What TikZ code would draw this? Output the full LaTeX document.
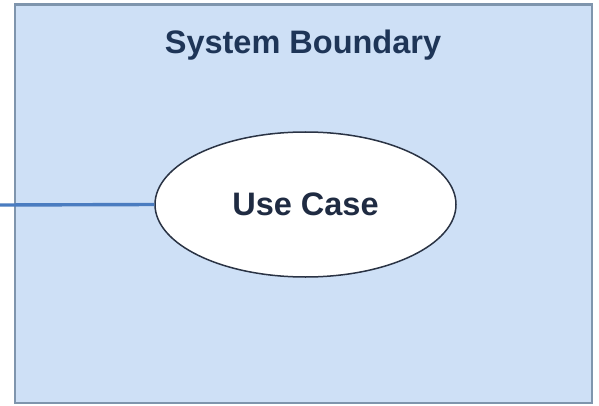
\documentclass[tikz,border=0pt]{standalone}
\usepackage{fontspec}
\setmainfont{Liberation Sans}
\usetikzlibrary{shapes.geometric}
\definecolor{boundfill}{HTML}{CEE0F6}
\definecolor{boundline}{HTML}{7F95AD}
\definecolor{titleink}{HTML}{1E3557}
\definecolor{caseink}{HTML}{1F2B42}
\definecolor{caseline}{HTML}{2A3344}
\definecolor{linkblue}{HTML}{4A7CC0}
\tikzset{
  boundary/.style={draw=boundline, fill=boundfill, line width=2.2pt},
  usecase/.style={ellipse, draw=caseline, fill=white, line width=1.5pt,
    minimum width=301pt, minimum height=145pt, inner sep=0pt,
    font=\fontsize{32.5}{38}\selectfont\bfseries, text=caseink},
  boundtitle/.style={font=\fontsize{32.5}{38}\selectfont\bfseries, text=titleink, inner sep=0pt},
  link/.style={draw=linkblue, line width=3.4pt}
}
\begin{document}
\begin{tikzpicture}[x=1pt,y=-1pt]
  \useasboundingbox (0,0) rectangle (599,406);
  % system boundary box
  \draw[boundary] (15,4.5) rectangle (592,403);
  \node[boundtitle, anchor=base] (title) at (303,54) {System Boundary};
  % use case and its association line
  \coordinate (actorend) at (0,205);
  \node[usecase] (uc) at (305.5,204.5) {\raisebox{-3pt}{Use Case}};
  \draw[link] (actorend) -- (uc.west);
\end{tikzpicture}
\end{document}
